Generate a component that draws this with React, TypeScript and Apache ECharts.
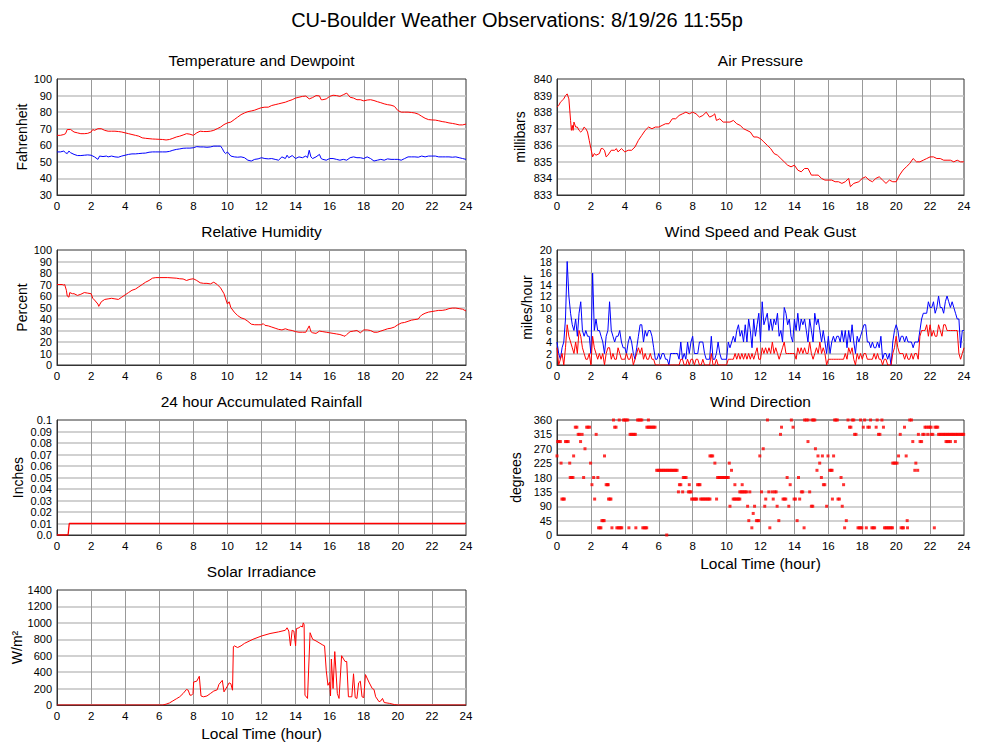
import React, { useEffect, useRef } from "react";
import * as echarts from "echarts";

const FONT = "'Liberation Sans', Arial, Helvetica, sans-serif";

const mainTitle = "CU-Boulder Weather Observations: 8/19/26 11:55p";
const xAxisTitle = "Local Time (hour)";

// [hour, °F]
const temperature: [number, number][] = [
  [0, 66], [0.2, 66], [0.4, 66.5], [0.5, 67], [0.6, 69.5], [0.8, 69.5], [1.0, 68], [1.2, 67.5], [1.4, 67], [1.6, 67],
  [1.8, 67.2], [2.0, 68], [2.1, 69.5], [2.2, 69], [2.4, 70], [2.6, 70], [2.8, 69], [3.0, 68.5], [3.2, 68.5], [3.4, 68.5],
  [3.6, 68.3], [3.8, 68], [4.0, 67.5], [4.2, 67], [4.4, 66.5], [4.6, 66], [4.8, 65.5], [5.0, 64.5], [5.2, 64.2], [5.4, 64],
  [5.6, 63.8], [5.8, 63.7], [6.0, 63.6], [6.2, 63.5], [6.4, 63.2], [6.6, 63.5], [6.8, 64.2], [7.0, 65], [7.2, 65.5], [7.4, 66.2],
  [7.6, 67], [7.8, 66.7], [8.0, 66], [8.2, 67.5], [8.4, 68.5], [8.6, 68.3], [8.8, 68.3], [9.0, 68.5], [9.2, 69], [9.4, 70],
  [9.6, 71], [9.8, 72.5], [10.0, 73.5], [10.2, 74], [10.4, 75.5], [10.6, 77], [10.8, 78.5], [11.0, 79.5], [11.2, 80.3], [11.4, 80.7],
  [11.6, 81.2], [11.8, 82], [12.0, 82.7], [12.2, 83], [12.4, 83], [12.6, 84], [12.8, 84.5], [13.0, 85], [13.2, 85.5], [13.4, 86],
  [13.6, 86.8], [13.8, 87.5], [14.0, 88.5], [14.2, 89], [14.4, 89.5], [14.6, 89.7], [14.8, 88], [15.0, 88.8], [15.2, 90], [15.4, 89.8],
  [15.5, 87.5], [15.6, 87.5], [15.8, 88], [16.0, 89.5], [16.2, 90.2], [16.4, 90], [16.6, 89.5], [16.8, 90.5], [17.0, 91.5], [17.2, 89],
  [17.4, 88.5], [17.6, 87.5], [17.8, 87.5], [18.0, 86.8], [18.2, 87.3], [18.4, 87.5], [18.6, 87], [18.8, 86.3], [19.0, 85.7], [19.2, 85],
  [19.4, 84.5], [19.6, 84.2], [19.8, 83.5], [20.0, 81], [20.2, 80], [20.4, 80], [20.6, 80], [20.8, 79.8], [21.0, 79.5], [21.2, 78.8],
  [21.4, 77.5], [21.6, 76.3], [21.8, 75.5], [22.0, 75.3], [22.2, 75.2], [22.4, 74.8], [22.6, 74.3], [22.8, 74], [23.0, 73.5], [23.2, 73.2],
  [23.4, 72.8], [23.6, 72.3], [23.8, 72.3], [24.0, 72.8],
];

const dewpoint: [number, number][] = [
  [0, 56], [0.2, 56], [0.4, 56.5], [0.5, 55.5], [0.6, 55], [0.7, 56.5], [0.8, 55.5], [1.0, 54.5], [1.2, 53.8], [1.4, 53.8],
  [1.6, 54], [1.8, 54.2], [2.0, 54], [2.2, 53], [2.4, 51.5], [2.5, 53.5], [2.7, 53.2], [2.9, 53.5], [3.0, 53], [3.2, 53.5],
  [3.4, 53], [3.6, 52.8], [3.8, 53.5], [4.0, 54], [4.2, 54.5], [4.4, 54.8], [4.6, 54.8], [4.8, 55], [5.0, 55.2], [5.2, 55.3],
  [5.4, 55.8], [5.6, 56], [5.8, 56], [6.0, 56], [6.2, 56], [6.4, 56], [6.6, 56.3], [6.8, 57], [7.0, 57.5], [7.2, 57.8],
  [7.4, 58.2], [7.6, 58.3], [7.8, 58.3], [8.0, 58.5], [8.2, 59.2], [8.4, 59], [8.6, 59], [8.8, 58.8], [9.0, 59], [9.2, 59.5],
  [9.4, 59.5], [9.6, 59.5], [9.7, 58], [9.8, 56], [9.9, 55], [10.0, 56], [10.2, 53.5], [10.4, 53], [10.6, 52.8], [10.8, 53],
  [11.0, 52.5], [11.2, 51], [11.4, 50.5], [11.6, 51.5], [11.8, 51.8], [12.0, 52.5], [12.2, 52], [12.4, 51.8], [12.6, 52], [12.8, 51.5],
  [13.0, 51], [13.2, 53], [13.4, 52], [13.5, 54], [13.6, 52.5], [13.8, 53.8], [14.0, 52], [14.2, 53], [14.4, 52.5], [14.6, 53.5],
  [14.7, 52.5], [14.8, 57], [14.9, 53], [15.0, 52], [15.2, 53], [15.4, 54.5], [15.5, 52], [15.6, 51.5], [15.8, 51], [16.0, 52],
  [16.2, 52], [16.4, 51.5], [16.6, 51], [16.8, 51.5], [17.0, 51], [17.2, 52.5], [17.4, 53], [17.6, 52.5], [17.8, 52.5], [18.0, 52],
  [18.2, 53], [18.4, 52], [18.6, 50.5], [18.8, 51], [19.0, 51.5], [19.2, 51], [19.4, 51.8], [19.6, 51.5], [19.8, 51.5], [20.0, 51.5],
  [20.2, 51], [20.4, 52], [20.6, 53], [20.8, 53], [21.0, 53], [21.2, 52.8], [21.4, 53.5], [21.6, 53], [21.8, 53.5], [22.0, 53.5],
  [22.2, 53.5], [22.4, 53], [22.6, 53], [22.8, 53], [23.0, 53], [23.2, 52.8], [23.4, 53], [23.6, 52.5], [23.8, 52], [24.0, 51.5],
];

// [hour, %]
const humidity: [number, number][] = [
  [0, 70], [0.3, 70], [0.4, 69.5], [0.45, 70], [0.55, 65], [0.6, 60], [0.7, 59], [0.75, 63], [0.9, 62], [1.0, 62],
  [1.2, 60.5], [1.4, 61.5], [1.6, 63], [1.8, 62.5], [2.0, 62], [2.1, 58], [2.2, 56.5], [2.4, 53], [2.45, 51], [2.6, 55],
  [2.8, 57], [3.0, 57.5], [3.2, 58], [3.4, 57.5], [3.6, 57], [3.8, 59], [4.0, 61], [4.2, 63], [4.4, 65], [4.6, 66],
  [4.8, 68], [5.0, 70], [5.2, 72], [5.4, 73.5], [5.6, 75.5], [5.8, 76], [6.0, 76], [6.5, 76], [7.0, 75.5], [7.2, 75],
  [7.4, 74.8], [7.6, 73.5], [7.8, 74.5], [8.0, 75], [8.2, 73.5], [8.4, 71.5], [8.6, 71], [8.8, 71], [9.0, 70.5], [9.2, 72],
  [9.4, 70], [9.6, 67], [9.8, 62], [10.0, 53], [10.1, 55], [10.2, 50], [10.4, 46], [10.6, 43], [10.8, 41], [11.0, 40],
  [11.2, 38], [11.4, 35.5], [11.6, 35], [11.8, 35], [12.0, 35], [12.1, 36], [12.2, 34.5], [12.4, 34], [12.6, 33], [12.8, 32],
  [13.0, 31], [13.2, 30.5], [13.4, 31.5], [13.6, 30.5], [13.8, 30], [14.0, 29], [14.2, 28.5], [14.4, 28.5], [14.6, 28.5], [14.8, 34],
  [14.9, 29], [15.0, 28], [15.2, 27.5], [15.4, 29.5], [15.6, 29], [15.8, 28.5], [16.0, 28], [16.2, 27.5], [16.4, 27], [16.6, 26.5],
  [16.8, 25.5], [16.9, 25], [17.0, 26.5], [17.2, 29], [17.4, 29.5], [17.6, 30], [17.8, 28], [18.0, 30.5], [18.2, 30.5], [18.4, 30],
  [18.6, 28.5], [18.8, 28.5], [19.0, 29.5], [19.2, 30.5], [19.4, 31.5], [19.6, 32], [19.8, 33], [20.0, 35], [20.2, 36.5], [20.4, 37],
  [20.6, 38], [20.8, 39], [21.0, 39.5], [21.2, 40], [21.3, 42], [21.4, 43.5], [21.6, 45], [21.8, 46], [22.0, 46.5], [22.2, 47],
  [22.4, 47.5], [22.6, 47.5], [22.8, 48], [23.0, 49], [23.2, 49.5], [23.4, 49.5], [23.6, 49], [23.8, 48.5], [24.0, 47],
];

// [hour, millibars]
const pressure: [number, number][] = [
  [0, 838.3], [0.1, 838.4], [0.2, 838.6], [0.3, 838.7], [0.4, 838.8], [0.5, 839.0], [0.6, 839.1], [0.7, 838.8], [0.8, 837.5], [0.85, 836.9],
  [0.9, 837.2], [0.95, 836.9], [1.0, 837.4], [1.1, 837.1], [1.2, 837.1], [1.3, 836.9], [1.4, 836.8], [1.5, 836.9], [1.6, 837.1], [1.7, 837.0],
  [1.8, 836.8], [1.9, 836.3], [2.0, 835.8], [2.1, 835.3], [2.2, 835.5], [2.3, 835.4], [2.5, 835.5], [2.6, 835.8], [2.7, 835.8], [2.8, 835.7],
  [2.9, 835.3], [3.0, 835.4], [3.2, 835.7], [3.4, 835.7], [3.5, 835.8], [3.6, 835.6], [3.8, 835.8], [4.0, 835.6], [4.2, 835.7], [4.4, 835.7],
  [4.6, 835.9], [4.8, 836.3], [5.0, 836.6], [5.2, 836.9], [5.4, 837.1], [5.6, 837.0], [5.8, 837.1], [6.0, 837.1], [6.2, 837.2], [6.4, 837.3],
  [6.6, 837.3], [6.8, 837.6], [7.0, 837.6], [7.2, 837.8], [7.4, 837.9], [7.6, 838.0], [7.8, 837.9], [8.0, 838.0], [8.2, 837.9], [8.4, 837.7],
  [8.6, 837.8], [8.8, 838.0], [9.0, 837.7], [9.2, 837.8], [9.3, 837.9], [9.4, 837.5], [9.6, 837.6], [9.8, 837.4], [10.0, 837.4], [10.2, 837.4],
  [10.4, 837.5], [10.6, 837.3], [10.8, 837.2], [11.0, 837.0], [11.2, 836.9], [11.4, 836.8], [11.6, 836.5], [11.8, 836.5], [12.0, 836.4], [12.2, 836.2],
  [12.4, 836.0], [12.6, 835.8], [12.8, 835.5], [13.0, 835.4], [13.2, 835.2], [13.4, 835.0], [13.6, 834.8], [13.8, 834.7], [14.0, 834.8], [14.2, 834.5],
  [14.4, 834.4], [14.6, 834.6], [14.8, 834.6], [15.0, 834.2], [15.2, 834.2], [15.4, 834.2], [15.6, 834.0], [15.8, 833.9], [16.0, 833.9], [16.2, 833.9],
  [16.4, 833.8], [16.6, 833.8], [16.8, 833.7], [17.0, 833.8], [17.2, 834.0], [17.3, 833.5], [17.5, 833.7], [17.8, 833.8], [18.0, 834.0], [18.2, 834.1],
  [18.4, 833.9], [18.6, 833.8], [18.8, 834.0], [19.0, 834.1], [19.2, 833.9], [19.4, 833.7], [19.6, 833.9], [19.8, 833.8], [20.0, 833.8], [20.2, 834.2],
  [20.4, 834.5], [20.6, 834.7], [20.8, 834.9], [21.0, 835.2], [21.2, 835.0], [21.4, 835.0], [21.6, 835.1], [21.8, 835.2], [22.0, 835.3], [22.2, 835.3],
  [22.4, 835.2], [22.6, 835.2], [22.8, 835.1], [23.0, 835.1], [23.2, 835.1], [23.4, 835.0], [23.6, 835.1], [23.8, 835.0], [24.0, 835.0],
];

// [hour, inches]
const rainfall: [number, number][] = [[0, 0], [0.65, 0], [0.72, 0.01], [24, 0.01]];

// [hour, W/m²]
const solar: [number, number][] = [
  [0, 0], [6.2, 0], [6.4, 10], [6.6, 25], [6.8, 50], [7.0, 75], [7.2, 100], [7.4, 140], [7.6, 190], [7.7, 180],
  [7.8, 120], [7.9, 120], [7.98, 140], [8.02, 280], [8.2, 290], [8.35, 350], [8.45, 110], [8.6, 100], [8.8, 110], [9.0, 140],
  [9.2, 170], [9.4, 185], [9.5, 250], [9.7, 300], [9.8, 160], [10.0, 230], [10.1, 270], [10.2, 260], [10.3, 180], [10.35, 710],
  [10.4, 720], [10.6, 700], [10.8, 720], [11.0, 750], [11.5, 800], [12.0, 840], [12.5, 870], [13.0, 890], [13.4, 910], [13.5, 940],
  [13.6, 900], [13.7, 720], [13.8, 910], [13.9, 900], [14.0, 720], [14.05, 930], [14.2, 940], [14.3, 960], [14.4, 950], [14.45, 1000],
  [14.5, 980], [14.55, 120], [14.7, 80], [14.85, 880], [15.0, 800], [15.2, 780], [15.6, 730], [15.7, 720], [15.8, 420], [15.9, 240],
  [16.0, 280], [16.05, 110], [16.1, 560], [16.2, 200], [16.3, 650], [16.45, 140], [16.55, 80], [16.7, 600], [16.9, 530], [17.0, 530],
  [17.1, 100], [17.3, 100], [17.4, 380], [17.5, 90], [17.6, 80], [17.7, 270], [17.8, 290], [17.9, 100], [18.0, 90], [18.1, 370],
  [18.3, 280], [18.5, 200], [18.6, 190], [18.7, 100], [18.9, 40], [19.0, 50], [19.1, 80], [19.2, 30], [19.5, 20], [19.8, 5],
  [20.0, 0], [24, 0],
];

// wind, one value every 0.1 hour from 0 to 24 (mph)
const windGust = [
  4, 2, 1, 3, 4, 8, 18, 12, 9, 7,
  6, 8, 5, 9, 11, 6, 5, 6, 5, 5,
  2, 16, 6, 8, 6, 6, 5, 4, 2, 5,
  6, 11, 6, 5, 4, 5, 5, 6, 4, 3,
  3, 2, 4, 5, 4, 2, 1, 3, 5, 7,
  7, 4, 6, 5, 6, 6, 5, 3, 1, 1,
  2, 1, 2, 2, 1, 1, 0, 2, 2, 2,
  2, 2, 1, 4, 1, 2, 1, 4, 2, 4,
  5, 2, 2, 2, 4, 4, 4, 2, 1, 1,
  1, 5, 1, 1, 2, 4, 2, 1, 1, 1,
  1, 4, 3, 4, 5, 4, 6, 7, 5, 6,
  4, 7, 4, 8, 6, 3, 8, 5, 7, 9,
  4, 11, 7, 8, 9, 6, 8, 6, 8, 7,
  9, 5, 6, 4, 10, 9, 7, 8, 5, 4,
  8, 6, 9, 6, 8, 7, 8, 6, 4, 8,
  6, 4, 9, 7, 8, 6, 4, 6, 4, 2,
  5, 2, 4, 5, 4, 5, 5, 4, 6, 4,
  6, 3, 6, 4, 7, 4, 2, 5, 4, 5,
  6, 7, 7, 4, 4, 3, 4, 3, 3, 4,
  3, 5, 1, 2, 2, 1, 2, 0, 4, 6,
  7, 6, 4, 5, 5, 4, 5, 4, 4, 4,
  3, 4, 4, 4, 6, 8, 9, 9, 9, 11,
  10, 10, 11, 9, 10, 12, 10, 10, 9, 11,
  12, 11, 10, 11, 10, 9, 8, 8, 3, 6,
  6,
];

const windSpeed = [
  3, 0, 1, 2, 0, 3, 7, 5, 4, 3,
  2, 4, 2, 6, 5, 3, 2, 1, 1, 2,
  0, 5, 3, 2, 1, 2, 1, 2, 0, 2,
  3, 3, 1, 2, 1, 1, 3, 2, 1, 1,
  1, 2, 1, 1, 2, 0, 1, 2, 3, 2,
  3, 1, 2, 1, 1, 2, 1, 1, 0, 0,
  0, 0, 0, 0, 0, 0, 0, 0, 0, 0,
  0, 0, 0, 1, 1, 0, 0, 1, 0, 1,
  1, 0, 1, 1, 0, 0, 1, 0, 0, 0,
  0, 2, 0, 0, 1, 0, 0, 0, 0, 0,
  0, 1, 1, 1, 1, 2, 1, 2, 1, 2,
  1, 2, 1, 2, 1, 2, 1, 2, 3, 1,
  1, 3, 2, 3, 2, 3, 2, 4, 2, 3,
  2, 1, 2, 3, 4, 2, 2, 2, 2, 2,
  2, 1, 3, 2, 3, 2, 3, 2, 2, 4,
  2, 1, 2, 3, 2, 4, 2, 3, 2, 0,
  1, 1, 1, 1, 1, 1, 1, 1, 1, 1,
  2, 1, 3, 2, 3, 1, 0, 2, 1, 2,
  1, 2, 2, 1, 1, 1, 1, 2, 1, 2,
  1, 1, 0, 1, 1, 0, 0, 0, 2, 3,
  5, 3, 2, 2, 2, 1, 2, 1, 1, 2,
  1, 2, 2, 1, 5, 6, 6, 6, 7, 5,
  7, 5, 6, 5, 5, 7, 6, 5, 7, 7,
  6, 6, 6, 6, 6, 6, 6, 2, 1, 2,
  3,
];

// wind direction: [degrees, hours at which it was observed]
const windDirection: [number, number[]][] = [
  [360, [3.33, 3.67, 3.92, 4.0, 4.08, 4.17, 4.75, 4.83, 4.92, 5.0, 5.39, 12.41, 13.82, 14.6, 14.7, 14.8, 15.04, 15.12, 15.2, 16.37, 16.45, 16.53, 17.16, 17.41, 17.5, 17.9, 18.14, 18.49, 18.88, 19.16, 20.8, 20.9]],
  [337.5, [1.08, 1.17, 1.75, 1.83, 1.92, 3.4, 3.48, 5.3, 5.38, 5.46, 5.54, 5.62, 5.7, 5.78, 13.24, 13.92, 17.25, 17.33, 18.06, 18.33, 18.42, 18.82, 19.25, 20.49, 21.7, 21.78, 21.9, 21.98, 22.06, 22.29, 22.37, 22.45]],
  [315, [1.25, 1.33, 1.48, 2.31, 4.31, 4.39, 4.47, 4.55, 4.62, 13.18, 17.55, 17.63, 18.96, 19.04, 20.24, 21.31, 21.57, 21.65, 21.86, 22.06, 22.16, 22.5, 22.58, 22.66, 22.75, 22.83, 22.91, 23.0, 23.08, 23.16, 23.25, 23.33, 23.41, 23.5, 23.58, 23.66, 23.75, 23.83, 23.91, 23.98]],
  [292.5, [0.04, 0.12, 0.2, 0.5, 0.58, 0.66, 1.39, 14.8, 20.98, 21.41, 21.5, 22.94, 23.02, 23.1, 23.2, 23.49]],
  [270, [1.65, 12.16, 15.24]],
  [247.5, [0.0, 0.98, 2.8, 9.02, 9.1, 9.18, 11.96, 15.39, 15.65, 15.98, 16.31, 20.14, 20.59]],
  [225, [0.24, 0.75, 1.98, 9.31, 10.16, 15.49, 19.8, 19.88, 19.96, 20.05, 21.16]],
  [202.5, [5.88, 5.96, 6.04, 6.12, 6.2, 6.28, 6.36, 6.44, 6.52, 6.6, 6.68, 6.76, 6.84, 6.92, 7.0, 7.08, 10.29, 15.33, 16.08, 16.16, 16.22, 21.1, 21.27]],
  [180, [0.78, 0.86, 0.94, 1.57, 2.16, 2.41, 7.45, 7.53, 7.61, 9.47, 9.55, 9.63, 9.71, 9.79, 9.87, 9.95, 10.03, 10.1, 13.57, 14.24, 15.59, 16.75]],
  [157.5, [2.06, 2.9, 2.98, 3.02, 7.22, 7.3, 7.8, 8.29, 8.37, 8.43, 10.49, 10.92, 13.75, 15.71, 15.79, 16.9]],
  [135, [7.16, 7.41, 7.75, 7.83, 7.91, 10.78, 10.86, 10.94, 11.02, 11.1, 11.18, 11.37, 12.06, 12.49, 12.69, 12.84, 12.92, 14.41, 14.49, 14.9]],
  [112.5, [0.29, 0.37, 0.43, 2.22, 3.04, 3.12, 3.18, 7.94, 8.02, 8.1, 8.18, 8.24, 8.47, 8.55, 8.63, 8.71, 8.79, 8.87, 8.95, 9.02, 9.41, 10.39, 10.47, 10.55, 10.63, 10.71, 10.78, 12.31, 12.75, 13.33, 13.41, 13.49, 13.98, 14.06, 14.31, 16.24, 16.57, 16.65]],
  [90, [10.2, 11.24, 11.65, 12.25, 12.98, 13.67, 15.0, 15.08, 15.9, 16.82]],
  [67.5, [11.57]],
  [45, [2.65, 2.72, 2.78, 11.31, 11.76, 11.84, 11.9, 13.08, 14.16, 17.06, 20.65]],
  [22.5, [2.45, 2.53, 2.59, 3.24, 3.53, 3.61, 3.69, 3.76, 3.82, 4.24, 4.65, 5.06, 5.14, 5.22, 5.29, 11.49, 12.55, 14.57, 16.96, 17.75, 17.83, 17.9, 17.98, 18.24, 18.57, 18.65, 18.73, 19.31, 19.39, 19.47, 19.55, 19.63, 19.71, 19.78, 20.29, 20.37, 20.43, 20.67, 22.25]],
  [0, [6.47]],
];

type Panel = {
  title: string;
  left: number;
  top: number;
  width: number;
  height: number;
  min: number;
  max: number;
  interval: number;
  yName: string;
  nameGap: number;
  xName?: boolean;
  fmt?: (v: number) => string;
};

const panels: Panel[] = [
  { title: "Temperature and Dewpoint", left: 57, top: 79, width: 409, height: 116, min: 30, max: 100, interval: 10, yName: "Fahrenheit", nameGap: 28 },
  { title: "Air Pressure", left: 557, top: 79, width: 407, height: 116, min: 833, max: 840, interval: 1, yName: "millibars", nameGap: 30 },
  { title: "Relative Humidity", left: 57, top: 250, width: 409, height: 115, min: 0, max: 100, interval: 10, yName: "Percent", nameGap: 28 },
  { title: "Wind Speed and Peak Gust", left: 557, top: 250, width: 407, height: 115, min: 0, max: 20, interval: 2, yName: "miles/hour", nameGap: 23 },
  {
    title: "24 hour Accumulated Rainfall", left: 57, top: 420, width: 409, height: 115, min: 0, max: 0.1, interval: 0.01, yName: "Inches", nameGap: 32,
    fmt: (v: number) => {
      const r = Math.round(v * 100) / 100;
      if (r === 0) return "0.0";
      if (r === 0.1) return "0.1";
      return r.toFixed(2);
    },
  },
  { title: "Wind Direction", left: 557, top: 420, width: 407, height: 115, min: 0, max: 360, interval: 45, yName: "degrees", nameGap: 34, xName: true },
  { title: "Solar Irradiance", left: 57, top: 590, width: 409, height: 115, min: 0, max: 1400, interval: 200, yName: "W/m²", nameGap: 33, xName: true },
];

const RED = "#ff0000";
const BLUE = "#0000ff";

function buildOption(): any {
  const hours = windGust.map((_, i) => i / 10);
  const gustData = windGust.map((v, i) => [hours[i], v]);
  const speedData = windSpeed.map((v, i) => [hours[i], v]);
  const dirData: [number, number][] = [];
  windDirection.forEach(([deg, hrs]) => hrs.forEach((h) => dirData.push([h, deg])));

  const grid = panels.map((p) => ({
    left: p.left,
    top: p.top,
    width: p.width,
    height: p.height,
    show: true,
    borderColor: "#333",
    borderWidth: 1,
    backgroundColor: "transparent",
    containLabel: false,
  }));

  const xAxis = panels.map((p, i) => ({
    type: "value",
    gridIndex: i,
    min: 0,
    max: 24,
    interval: 2,
    name: p.xName ? xAxisTitle : "",
    nameLocation: "middle",
    nameGap: 20,
    nameTextStyle: { fontFamily: FONT, fontSize: 15.5, color: "#000" },
    axisLine: { show: true, lineStyle: { color: "#333", width: 1 } },
    axisTick: { show: false },
    axisLabel: { fontFamily: FONT, fontSize: 11.5, color: "#000", margin: 5, showMinLabel: true, showMaxLabel: true },
    splitLine: { show: true, showMinLine: false, showMaxLine: false, lineStyle: { color: "#999", width: 1 } },
  }));

  const yAxis = panels.map((p, i) => ({
    type: "value",
    gridIndex: i,
    min: p.min,
    max: p.max,
    interval: p.interval,
    name: p.yName,
    nameLocation: "middle",
    nameGap: p.nameGap,
    nameRotate: 90,
    nameTextStyle: { fontFamily: FONT, fontSize: 14, color: "#000" },
    axisLine: { show: true, lineStyle: { color: "#333", width: 1 } },
    axisTick: { show: false },
    axisLabel: {
      fontFamily: FONT,
      fontSize: 11,
      color: "#000",
      margin: 5,
      showMinLabel: true,
      showMaxLabel: true,
      hideOverlap: false,
      formatter: p.fmt ? p.fmt : (v: number) => String(Math.round(v * 1000) / 1000),
    },
    splitLine: { show: true, showMinLine: false, showMaxLine: false, lineStyle: { color: "#c2c2c2", width: 1.5 } },
  }));

  const line = (data: any, idx: number, color: string, z = 2, width = 1) => ({
    type: "line",
    xAxisIndex: idx,
    yAxisIndex: idx,
    data,
    showSymbol: false,
    symbol: "none",
    lineStyle: { color, width },
    itemStyle: { color },
    z,
    silent: true,
  });

  const series: any[] = [
    line(temperature, 0, RED),
    line(dewpoint, 0, BLUE),
    line(pressure, 1, RED),
    line(humidity, 2, RED),
    line(gustData, 3, BLUE),
    line(speedData, 3, RED, 3),
    line(rainfall, 4, RED, 3, 1.3),
    {
      type: "scatter",
      xAxisIndex: 5,
      yAxisIndex: 5,
      data: dirData,
      symbol: "rect",
      symbolSize: [3, 3],
      itemStyle: { color: RED },
      silent: true,
    },
    line(solar, 6, RED),
  ];

  const graphic: any[] = [
    {
      type: "text",
      x: 517,
      y: 20,
      style: {
        text: mainTitle,
        font: `20px ${FONT}`,
        fill: "#000",
        align: "center",
        verticalAlign: "middle",
        textAlign: "center",
        textVerticalAlign: "middle",
      },
    },
    ...panels.map((p) => ({
      type: "text",
      x: p.left + p.width / 2,
      y: p.top - 18.5,
      style: {
        text: p.title,
        font: `15.5px ${FONT}`,
        fill: "#000",
        align: "center",
        verticalAlign: "middle",
        textAlign: "center",
        textVerticalAlign: "middle",
      },
    })),
  ];

  return {
    animation: false,
    backgroundColor: "#ffffff",
    textStyle: { fontFamily: FONT },
    grid,
    xAxis,
    yAxis,
    series,
    graphic,
  };
}

export default function App() {
  const ref = useRef<HTMLDivElement>(null);
  useEffect(() => {
    document.body.style.margin = "0";
    if (!ref.current) return;
    const chart = echarts.init(ref.current, undefined, { renderer: "svg" });
    chart.setOption(buildOption());
    return () => {
      chart.dispose();
    };
  }, []);
  return <div ref={ref} style={{ width: 1000, height: 745, background: "#fff" }} />;
}
